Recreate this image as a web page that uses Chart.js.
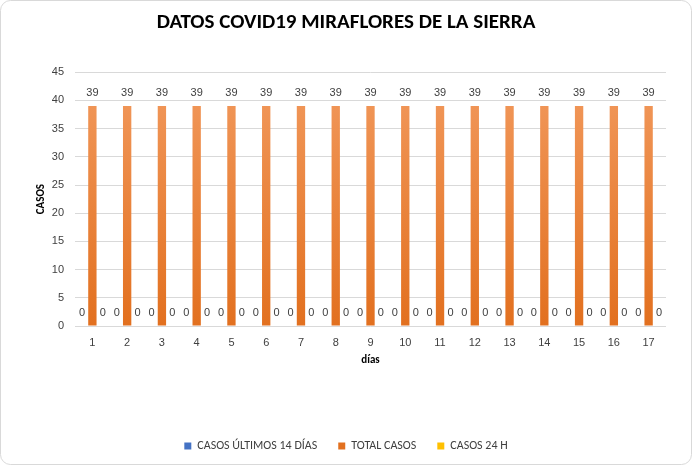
<!DOCTYPE html>
<html>
<head>
<meta charset="utf-8">
<script src="https://cdn.jsdelivr.net/npm/chart.js@4.4.0/dist/chart.umd.min.js"></script>
<style>
  html, body { margin: 0; padding: 0; background: #fff; }
  #wrap { width: 692px; height: 465px; }
</style>
</head>
<body>
<div id="wrap"><canvas id="chart" width="692" height="465"></canvas></div>
<script>
const dias = ["1","2","3","4","5","6","7","8","9","10","11","12","13","14","15","16","17"];
const casos14 = [0,0,0,0,0,0,0,0,0,0,0,0,0,0,0,0,0];
const totalCasos = [39,39,39,39,39,39,39,39,39,39,39,39,39,39,39,39,39];
const casos24 = [0,0,0,0,0,0,0,0,0,0,0,0,0,0,0,0,0];

const narrow = "Carlito, 'Liberation Sans Narrow', Arial, sans-serif";

// fondo blanco y borde redondeado como en Excel
const frame = {
    id: "frame",
    beforeDraw(chart) {
        const ctx = chart.ctx;
        ctx.save();
        ctx.fillStyle = "#fff";
        ctx.fillRect(0, 0, chart.width, chart.height);
        ctx.strokeStyle = "#d9d9d9";
        ctx.lineWidth = 1;
        ctx.beginPath();
        ctx.roundRect(0.5, 0.5, chart.width - 1, chart.height - 1, 10);
        ctx.stroke();
        ctx.restore();
    }
};

// etiquetas de valores encima de cada barra
const valueLabels = {
    id: "valueLabels",
    afterDatasetsDraw(chart) {
        const ctx = chart.ctx;
        ctx.save();
        ctx.font = "11px 'Liberation Sans', Arial, sans-serif";
        ctx.fillStyle = "#404040";
        ctx.textAlign = "center";
        ctx.textBaseline = "middle";
        chart.data.datasets.forEach((ds, i) => {
            const meta = chart.getDatasetMeta(i);
            meta.data.forEach((bar, j) => {
                ctx.fillText(ds.data[j], bar.x, bar.y - 13);
            });
        });
        ctx.restore();
    }
};

function orangeGradient(context) {
    const area = context.chart.chartArea;
    if (!area) return "#ED7D31";
    const g = context.chart.ctx.createLinearGradient(0, area.top, 0, area.bottom);
    g.addColorStop(0, "#F29A5E");
    g.addColorStop(1, "#E2701F");
    return g;
}

new Chart(document.getElementById("chart"), {
    type: "bar",
    data: {
        labels: dias,
        datasets: [
            { label: "CASOS ÚLTIMOS 14 DÍAS", data: casos14, backgroundColor: "#4472C4" },
            { label: "TOTAL CASOS", data: totalCasos, backgroundColor: orangeGradient },
            { label: "CASOS 24 H", data: casos24, backgroundColor: "#FFC000" }
        ]
    },
    options: {
        responsive: false,
        animation: false,
        layout: { padding: { left: 26, right: 26, top: 0, bottom: 3 } },
        datasets: { bar: { categoryPercentage: 0.9, barPercentage: 0.8 } },
        plugins: {
            title: {
                display: true,
                text: "DATOS COVID19 MIRAFLORES DE LA SIERRA",
                color: "#000",
                font: { family: narrow, size: 21, weight: "bold" },
                padding: { top: 10, bottom: 37 }
            },
            legend: {
                position: "bottom",
                labels: {
                    boxWidth: 7,
                    boxHeight: 7,
                    padding: 21,
                    color: "#404040",
                    font: { family: narrow, size: 12 }
                }
            },
            tooltip: { enabled: false }
        },
        scales: {
            x: {
                grid: { display: false },
                border: { display: false },
                ticks: { color: "#404040", font: { family: "'Liberation Sans', Arial, sans-serif", size: 11 }, padding: 2 },
                title: { display: true, text: "días", color: "#000", font: { family: narrow, size: 11, weight: "bold" }, padding: { top: 4, bottom: 52 } },
                afterFit(scale) { scale.height = 93; }
            },
            y: {
                min: 0,
                max: 45,
                ticks: { stepSize: 5, color: "#404040", font: { family: "'Liberation Sans', Arial, sans-serif", size: 11 }, padding: 11 },
                grid: { color: "#d9d9d9", drawTicks: false },
                border: { display: false },
                title: { display: true, text: "CASOS", color: "#000", font: { family: narrow, size: 11, weight: "bold" }, padding: { top: 9, bottom: 2 } },
                afterFit(scale) { scale.width = 49; }
            }
        }
    },
    plugins: [frame, valueLabels]
});
</script>
</body>
</html>
